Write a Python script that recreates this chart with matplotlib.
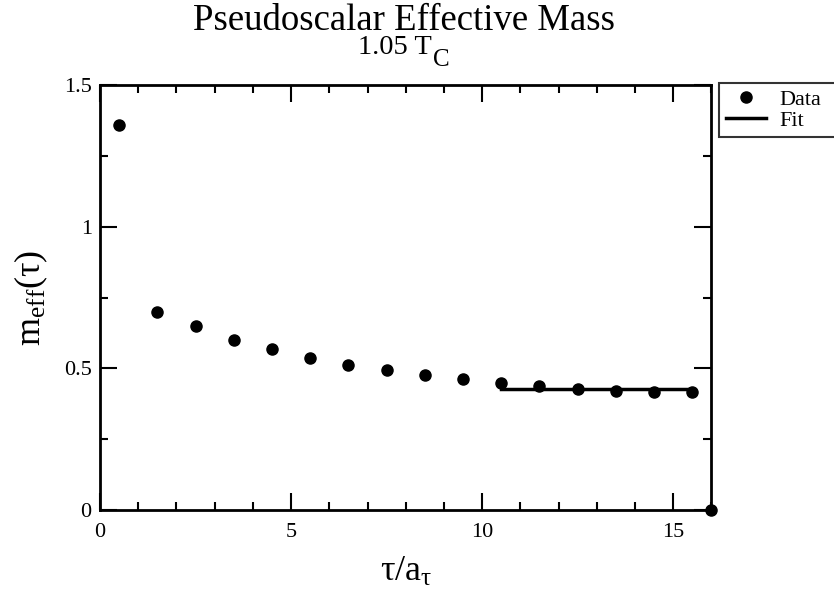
import matplotlib
matplotlib.use("Agg")
import matplotlib.pyplot as plt
from matplotlib.ticker import MultipleLocator

# effective mass data
tau = [0.5, 1.5, 2.5, 3.5, 4.5, 5.5, 6.5, 7.5, 8.5, 9.5,
       10.5, 11.5, 12.5, 13.5, 14.5, 15.5, 16.0]
m_eff = [1.36, 0.700, 0.648, 0.602, 0.567, 0.537, 0.513, 0.495, 0.477, 0.462,
         0.447, 0.437, 0.428, 0.422, 0.418, 0.416, 0.0]

# plateau fit
fit_tau = [10.5, 15.5]
fit_val = [0.426, 0.426]

plt.rcParams["font.family"] = ["Liberation Serif", "DejaVu Serif"]
plt.rcParams["mathtext.fontset"] = "custom"
plt.rcParams["mathtext.rm"] = "Liberation Serif"
plt.rcParams["mathtext.it"] = "Liberation Serif:italic"

fig = plt.figure(figsize=(8.34, 6.03), dpi=100)
ax = fig.add_axes([0.12, 0.154, 0.733, 0.705])

ax.plot(tau, m_eff, "o", color="black", markersize=8, clip_on=False, label="Data", zorder=3)
ax.plot(fit_tau, fit_val, "-", color="black", linewidth=2.5, label="Fit")

ax.set_xlim(0, 16)
ax.set_ylim(0, 1.5)
ax.xaxis.set_major_locator(MultipleLocator(5))
ax.xaxis.set_minor_locator(MultipleLocator(1))
ax.yaxis.set_minor_locator(MultipleLocator(0.25))
ax.set_yticks([0, 0.5, 1, 1.5])
ax.set_yticklabels(["0", "0.5", "1", "1.5"])
ax.tick_params(which="both", direction="in", top=True, right=True, width=1.5, labelsize=16)
ax.tick_params(which="major", length=12)
ax.tick_params(which="minor", length=6)
ax.tick_params(axis="x", which="major", pad=9)
ax.tick_params(axis="y", which="major", pad=6)
for s in ax.spines.values():
    s.set_linewidth(2)

ax.set_xlabel("τ/a$_\\mathrm{τ}$", fontsize=26, labelpad=10)
ax.set_ylabel("m$_\\mathrm{eff}$(τ)", fontsize=26, labelpad=10)

fig.text(0.484, 1 - 30 / 603, "Pseudoscalar Effective Mass", ha="center", va="baseline", fontsize=26.5)
sub = fig.text(358 / 834, 1 - 54 / 603, "1.05 T", ha="left", va="baseline", fontsize=20.5)
# large, dropped subscript "C" placed right after the "T"
fig.canvas.draw()
bb = sub.get_window_extent()
fig.text(bb.x1 / 834 + 0.001, 1 - 66 / 603, "C", ha="left", va="baseline", fontsize=18)

# legend box runs off the right edge like the original
leg = ax.legend(loc="upper left", bbox_to_anchor=(1.013, 1.005, 0.2, 0), mode="expand",
                fontsize=16, frameon=True, fancybox=False, edgecolor="black", borderaxespad=0,
                handlelength=1.8, handletextpad=0.6, labelspacing=0.0, borderpad=0.3)
leg.get_frame().set_linewidth(1.5)

fig.savefig("out.png", dpi=100)
